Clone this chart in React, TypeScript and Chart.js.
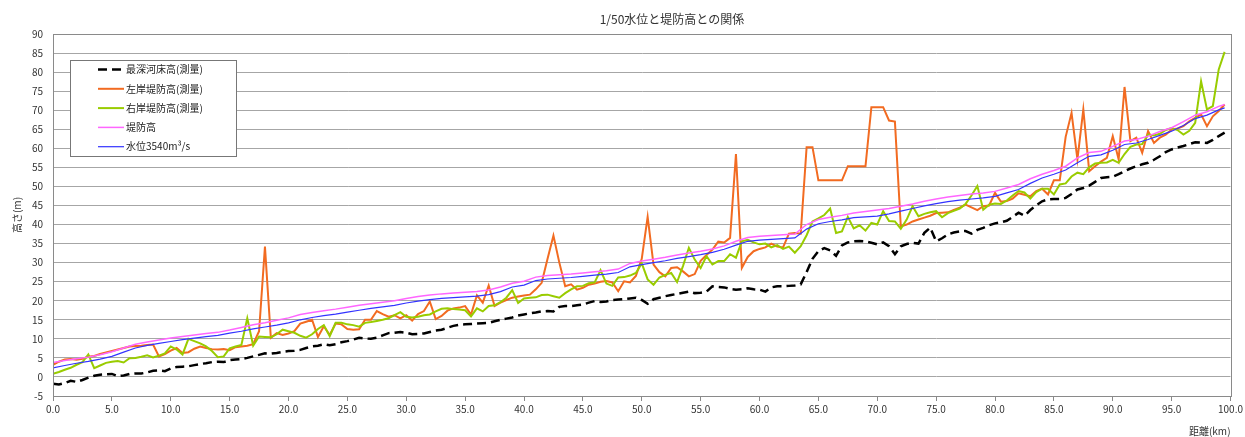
import { useEffect, useRef } from 'react';
import { Chart, registerables } from 'chart.js';

Chart.register(...registerables);

const TITLE = '1/50水位と堤防高との関係';
const X_TITLE = '距離(km)';
const Y_TITLE = '高さ(m)';
const FONT = '"Noto Sans CJK JP", "Noto Sans", sans-serif';

// sampling grids (km)
const KM_FINE: number[] = Array.from({ length: 200 }, (_, i) => i * 0.5);
const KM_COARSE: number[] = Array.from({ length: 100 }, (_, i) => i).concat([99.5]);

const SERIES_LABELS = [
  '最深河床高(測量)',
  '左岸堤防高(測量)',
  '右岸堤防高(測量)',
  '堤防高',
  '水位3540m³/s',
];

// 最深河床高(測量) — every 0.5 km
const RIVERBED = [
  -1.8, -2.0, -1.6, -1.0, -1.3, -0.8, -0.2, 0.3, 0.6, 0.7, 0.8, 0.2, 0.4, 0.8, 0.9, 0.9, 1.2, 1.6, 1.7, 1.5,
  2.2, 2.6, 2.7, 2.8, 3.1, 3.4, 3.6, 3.9, 4.0, 3.9, 4.4, 4.6, 4.7, 5.0, 5.4, 5.8, 6.2, 6.1, 6.3, 6.6,
  6.8, 6.9, 7.1, 7.6, 8.0, 8.2, 8.6, 8.3, 8.6, 9.1, 9.4, 9.8, 10.3, 10.1, 10.0, 10.3, 10.9, 11.5, 11.6, 11.8,
  11.6, 11.2, 11.3, 11.4, 11.8, 12.2, 12.4, 12.9, 13.4, 13.7, 13.8, 13.9, 14.0, 14.1, 14.2, 14.6, 15.0, 15.3, 15.6, 16.1,
  16.4, 16.7, 16.9, 17.2, 17.3, 17.2, 18.4, 18.6, 18.6, 18.8, 19.0, 19.5, 19.9, 19.7, 19.8, 20.2, 20.3, 20.4, 20.6, 20.8,
  20.2, 19.2, 20.4, 20.8, 21.2, 21.5, 21.8, 22.1, 22.4, 22.0, 22.1, 22.4, 23.8, 23.6, 23.5, 23.1, 22.9, 23.0, 23.3, 23.0,
  22.9, 22.4, 23.5, 23.8, 23.8, 23.9, 24.0, 24.3, 27.5, 31.0, 33.0, 33.8, 33.2, 31.8, 34.5, 35.3, 35.6, 35.7, 35.6, 35.2,
  34.8, 35.3, 34.3, 32.2, 34.3, 34.9, 35.2, 35.0, 37.8, 39.2, 35.6, 36.4, 37.4, 37.9, 38.2, 38.3, 37.6, 38.6, 39.1, 39.8,
  40.3, 40.6, 41.0, 42.0, 43.1, 42.3, 43.8, 45.0, 46.1, 46.6, 46.7, 46.7, 47.0, 48.0, 49.2, 49.6, 50.2, 51.2, 52.2, 52.4,
  52.5, 53.2, 54.0, 54.7, 55.3, 55.8, 56.2, 57.0, 57.9, 59.0, 59.7, 60.2, 60.6, 61.1, 61.6, 61.5, 61.4, 62.2, 63.2, 64.1,
];

// 左岸堤防高(測量) — every 0.5 km
const LEFT_BANK = [
  3.2, 4.0, 4.6, 4.7, 4.5, 4.8, 5.3, 5.5, 6.0, 6.4, 6.8, 7.2, 7.6, 8.0, 8.1, 8.2, 8.4, 8.5, 5.4, 6.0,
  6.9, 7.6, 6.3, 6.5, 7.4, 8.0, 7.6, 7.3, 7.2, 7.3, 7.0, 7.8, 8.0, 8.2, 8.6, 12.0, 34.2, 10.3, 11.5, 11.0,
  11.4, 12.0, 14.0, 14.5, 15.0, 10.5, 13.3, 11.0, 14.0, 13.8, 12.6, 12.4, 12.5, 15.0, 15.0, 17.3, 16.5, 15.8, 16.2, 15.4,
  16.2, 14.8, 16.5, 17.3, 19.8, 15.2, 16.0, 17.4, 18.0, 18.2, 18.6, 16.4, 21.4, 19.5, 24.0, 18.6, 19.5, 20.2, 20.8, 21.1,
  21.4, 21.6, 23.0, 24.7, 31.0, 37.1, 30.0, 23.8, 24.3, 22.9, 23.4, 24.2, 24.5, 25.0, 25.2, 24.8, 22.5, 25.1, 24.8, 26.5,
  31.0, 42.0, 29.5, 27.5, 26.4, 28.6, 28.8, 27.7, 26.4, 27.0, 30.5, 32.0, 33.4, 35.5, 35.3, 36.5, 58.5, 28.6, 31.5, 33.0,
  33.6, 34.0, 35.0, 34.2, 34.0, 37.6, 37.8, 37.6, 60.3, 60.3, 51.6, 51.6, 51.6, 51.6, 51.6, 55.3, 55.3, 55.3, 55.3, 70.8,
  70.8, 70.8, 67.3, 67.0, 39.5, 40.0, 40.8, 41.3, 41.8, 42.3, 43.0, 43.1, 43.2, 43.8, 44.4, 45.2, 44.5, 43.8, 44.8, 45.0,
  48.3, 46.0, 46.2, 46.8, 48.2, 47.8, 47.4, 48.8, 49.4, 47.9, 51.6, 51.6, 63.0, 69.3, 57.1, 70.2, 54.0, 55.3, 56.5, 57.5,
  63.2, 57.1, 76.1, 61.9, 62.8, 58.8, 64.5, 61.4, 62.8, 63.6, 64.9, 65.2, 65.8, 67.1, 68.0, 68.9, 65.8, 68.4, 69.8, 71.5,
];

// 右岸堤防高(測量) — every 0.5 km
const RIGHT_BANK = [
  0.8, 1.3, 1.9, 2.4, 3.2, 3.9, 5.9, 2.3, 3.0, 3.7, 4.0, 4.2, 3.8, 4.9, 5.0, 5.3, 5.7, 5.1, 5.6, 6.2,
  8.0, 7.2, 5.9, 10.0, 9.4, 8.8, 8.0, 6.8, 5.2, 5.4, 7.5, 8.0, 8.4, 15.4, 8.2, 10.6, 10.5, 10.4, 11.2, 12.4,
  12.0, 11.6, 10.8, 10.3, 11.2, 12.6, 13.6, 10.7, 14.2, 14.2, 13.8, 13.6, 13.2, 14.2, 14.4, 14.7, 15.0, 15.4, 16.2, 17.0,
  15.8, 15.6, 15.8, 16.2, 16.4, 17.2, 17.9, 18.0, 17.8, 17.7, 17.5, 15.9, 18.0, 17.2, 18.6, 18.8, 19.6, 20.8, 22.8, 19.4,
  20.6, 20.8, 20.9, 21.5, 21.6, 21.2, 20.8, 22.0, 23.0, 23.8, 23.9, 24.6, 24.8, 28.0, 24.5, 23.9, 26.1, 26.2, 26.6, 27.3,
  29.8, 25.6, 24.2, 26.1, 26.8, 27.3, 24.9, 29.1, 33.9, 30.8, 28.6, 31.7, 29.5, 30.4, 30.4, 32.2, 31.3, 35.6, 36.0, 35.3,
  34.8, 35.0, 34.0, 34.6, 33.6, 34.2, 32.6, 34.3, 37.2, 40.8, 41.6, 42.5, 44.2, 37.8, 38.2, 42.0, 39.0, 39.8, 38.4, 40.4,
  40.0, 43.5, 40.9, 40.8, 38.9, 41.3, 44.8, 42.2, 42.8, 43.2, 43.5, 41.9, 43.0, 43.6, 44.2, 45.4, 47.6, 50.1, 43.9, 45.2,
  45.5, 45.4, 46.3, 47.6, 48.8, 48.4, 46.8, 48.5, 49.4, 49.4, 47.9, 50.5, 50.8, 52.6, 53.6, 53.2, 55.0, 56.0, 56.2, 56.3,
  57.0, 56.2, 58.5, 60.4, 61.0, 61.1, 63.6, 63.4, 63.8, 64.8, 65.3, 64.8, 63.6, 64.6, 66.7, 77.6, 70.2, 71.1, 80.7, 85.3,
];

// 堤防高 — every 1 km (last point 99.5 km)
const LEVEE_DESIGN = [
  3.8, 4.3, 4.8, 5.2, 5.8, 6.6, 7.6, 8.6, 9.2, 9.7,
  10.2, 10.6, 11.0, 11.4, 11.7, 12.3, 13.0, 13.7, 14.2, 14.9,
  15.5, 16.4, 16.9, 17.4, 17.8, 18.3, 18.8, 19.2, 19.6, 20.0,
  20.6, 21.1, 21.5, 21.8, 22.0, 22.2, 22.4, 22.8, 23.6, 24.6,
  25.1, 26.2, 26.6, 26.8, 27.0, 27.3, 27.6, 27.9, 28.3, 29.8,
  30.4, 30.9, 31.4, 32.0, 32.5, 33.0, 33.6, 34.4, 35.6, 36.6,
  36.9, 37.1, 37.3, 37.5, 40.0, 41.3, 41.9, 42.4, 43.0, 43.4,
  43.8, 44.2, 44.8, 45.4, 46.1, 46.7, 47.2, 47.6, 48.0, 48.3,
  48.7, 49.6, 50.5, 52.0, 53.2, 54.2, 55.3, 57.5, 58.9, 59.2,
  60.5, 61.9, 62.3, 63.2, 64.4, 65.4, 67.0, 68.7, 69.6, 71.0,
  71.5,
];

// 水位3540m³/s — every 1 km (last point 99.5 km)
const WATER_LEVEL = [
  2.4, 3.0, 3.6, 4.1, 4.7, 5.4, 6.5, 7.6, 8.3, 8.8,
  9.3, 9.8, 10.2, 10.6, 10.9, 11.5, 12.0, 12.6, 13.1, 13.6,
  14.2, 15.0, 15.6, 16.1, 16.5, 17.0, 17.5, 18.0, 18.4, 18.8,
  19.4, 19.9, 20.3, 20.6, 20.8, 21.0, 21.2, 21.6, 22.4, 23.6,
  24.1, 25.3, 25.7, 25.9, 26.1, 26.4, 26.7, 27.0, 27.4, 28.9,
  29.5, 30.0, 30.5, 31.1, 31.6, 32.1, 32.7, 33.5, 34.6, 35.6,
  35.9, 36.1, 36.3, 36.5, 38.8, 40.2, 40.8, 41.2, 41.8, 42.0,
  42.2, 42.8, 43.5, 44.2, 44.9, 45.5, 46.0, 46.4, 46.7, 47.0,
  47.4, 48.3, 49.2, 50.8, 52.2, 53.2, 54.3, 56.2, 57.9, 58.3,
  59.5, 61.0, 61.4, 62.3, 63.4, 64.5, 66.0, 67.8, 68.7, 70.1,
  70.6,
];

const pts = (xs: number[], ys: number[]) => ys.map((y, i) => ({ x: xs[i], y }));

const overlayPlugin = {
  id: 'overlay',
  afterDraw(chart: any) {
    const { ctx, chartArea } = chart;
    ctx.save();
    // plot border
    ctx.strokeStyle = '#8a8a8a';
    ctx.lineWidth = 1;
    ctx.strokeRect(
      Math.round(chartArea.left) + 0.5,
      Math.round(chartArea.top) + 0.5,
      Math.round(chartArea.right - chartArea.left),
      Math.round(chartArea.bottom - chartArea.top)
    );
    // title
    ctx.fillStyle = '#333';
    ctx.font = `12px ${FONT}`;
    ctx.textAlign = 'center';
    ctx.textBaseline = 'middle';
    ctx.fillText(TITLE, 672, 19);
    // legend
    const lx = chartArea.left + 17;
    const ly = chartArea.top + 26;
    const lw = 166;
    const lh = 96;
    ctx.fillStyle = '#fff';
    ctx.fillRect(lx, ly, lw, lh);
    ctx.strokeStyle = '#777';
    ctx.strokeRect(Math.round(lx) + 0.5, Math.round(ly) + 0.5, lw, lh);
    chart.data.datasets.forEach((ds: any, i: number) => {
      const y = ly + 9.5 + i * 19.3;
      ctx.beginPath();
      ctx.setLineDash(ds.borderDash || []);
      ctx.strokeStyle = ds.borderColor;
      ctx.lineWidth = ds.borderWidth;
      ctx.moveTo(lx + 28, y);
      ctx.lineTo(lx + 54, y);
      ctx.stroke();
      ctx.setLineDash([]);
      ctx.fillStyle = '#222';
      ctx.textAlign = 'left';
      ctx.textBaseline = 'middle';
      ctx.font = `10px ${FONT}`;
      ctx.fillText(ds.label, lx + 56, y);
    });
    ctx.restore();
  },
};

export default function App() {
  const canvasRef = useRef<HTMLCanvasElement | null>(null);

  useEffect(() => {
    if (!canvasRef.current) return;
    const chart = new Chart(canvasRef.current, {
      type: 'line',
      data: {
        datasets: [
          {
            label: SERIES_LABELS[0],
            data: pts(KM_FINE, RIVERBED),
            borderColor: '#000000',
            borderWidth: 2.5,
            borderDash: [9, 5],
            pointRadius: 0,
            tension: 0,
            order: 5,
          },
          {
            label: SERIES_LABELS[1],
            data: pts(KM_FINE, LEFT_BANK),
            borderColor: '#f26b21',
            borderWidth: 2,
            pointRadius: 0,
            tension: 0,
            order: 4,
          },
          {
            label: SERIES_LABELS[2],
            data: pts(KM_FINE, RIGHT_BANK),
            borderColor: '#99cc00',
            borderWidth: 2,
            pointRadius: 0,
            tension: 0,
            order: 3,
          },
          {
            label: SERIES_LABELS[3],
            data: pts(KM_COARSE, LEVEE_DESIGN),
            borderColor: '#ff66ff',
            borderWidth: 1.5,
            pointRadius: 0,
            tension: 0,
            order: 2,
          },
          {
            label: SERIES_LABELS[4],
            data: pts(KM_COARSE, WATER_LEVEL),
            borderColor: '#3333ff',
            borderWidth: 1.2,
            pointRadius: 0,
            tension: 0,
            order: 1,
          },
        ],
      },
      options: {
        animation: false,
        responsive: true,
        maintainAspectRatio: false,
        layout: { padding: { top: 34, right: 14, left: 0, bottom: 0 } },
        plugins: {
          legend: { display: false },
          title: { display: false },
          tooltip: { enabled: false },
        },
        scales: {
          x: {
            type: 'linear',
            min: 0,
            max: 100,
            afterFit: (scale: any) => {
              scale.height = 41;
            },
            ticks: {
              stepSize: 5,
              autoSkip: false,
              maxRotation: 0,
              padding: 2,
              color: '#333',
              font: { family: FONT, size: 10 },
              callback: (v: any) => Number(v).toFixed(1),
            },
            grid: {
              drawOnChartArea: false,
              drawTicks: true,
              tickLength: 5,
              color: '#888',
            },
            border: { display: true, color: '#888' },
            title: {
              display: true,
              text: X_TITLE,
              align: 'end',
              color: '#333',
              font: { family: FONT, size: 10 },
              padding: { top: 0, bottom: 0 },
            },
          },
          y: {
            type: 'linear',
            min: -5,
            max: 90,
            afterFit: (scale: any) => {
              scale.width = 53;
            },
            ticks: {
              stepSize: 5,
              padding: 10,
              color: '#333',
              font: { family: FONT, size: 10 },
            },
            grid: {
              drawTicks: false,
              color: '#a6a6a6',
              lineWidth: 1,
            },
            border: { display: true, color: '#888' },
            title: {
              display: true,
              text: Y_TITLE,
              color: '#333',
              font: { family: FONT, size: 10 },
              padding: { top: 11, bottom: 0 },
            },
          },
        },
      },
      plugins: [overlayPlugin],
    });
    return () => chart.destroy();
  }, []);

  return (
    <div style={{ position: 'fixed', left: 0, top: 0, width: 1245, height: 437, background: '#fff' }}>
      <canvas ref={canvasRef} />
    </div>
  );
}
